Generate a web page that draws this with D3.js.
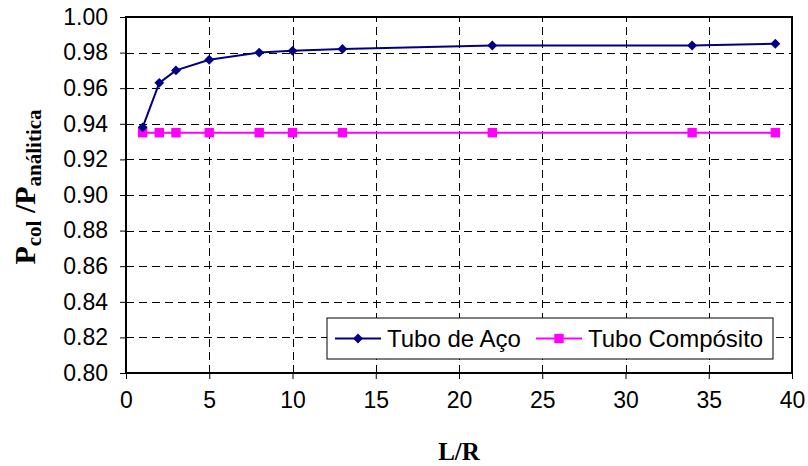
<!DOCTYPE html>
<html>
<head>
<meta charset="utf-8">
<script src="https://cdn.jsdelivr.net/npm/d3@7"></script>
<style>
  body { margin: 0; background: #fff; }
  svg { display: block; }
</style>
</head>
<body>
<svg id="chart" width="808" height="466"></svg>
<script>
// L/R values
var lr = [1, 2, 3, 5, 8, 10, 13, 22, 34, 39];
var tuboAco = [0.938, 0.963, 0.970, 0.976, 0.980, 0.981, 0.982, 0.984, 0.984, 0.985];
var tuboComposito = [0.935, 0.935, 0.935, 0.935, 0.935, 0.935, 0.935, 0.935, 0.935, 0.935];
var seriesNames = ["Tubo de Aço", "Tubo Compósito"];
var xTicks = [0, 5, 10, 15, 20, 25, 30, 35, 40];
var yTicks = [0.80, 0.82, 0.84, 0.86, 0.88, 0.90, 0.92, 0.94, 0.96, 0.98, 1.00];

var margin = { left: 126, top: 17, right: 16, bottom: 93 };
var width = 808, height = 466;
var sans = 'Liberation Sans, Arial, sans-serif';
var serif = 'Liberation Serif, Times New Roman, serif';

var svg = d3.select('#chart');

var x = d3.scaleLinear().domain([0, 40]).range([margin.left, width - margin.right]);
var y = d3.scaleLinear().domain([0.80, 1.00]).range([height - margin.bottom, margin.top]);

// grid
var grid = svg.append('g').attr('class', 'grid');
grid.selectAll('line.h')
    .data(yTicks.slice(1, -1))
    .enter().append('line')
    .attr('x1', x(0)).attr('x2', x(40))
    .attr('y1', function (d) { return Math.round(y(d)) + 0.5; })
    .attr('y2', function (d) { return Math.round(y(d)) + 0.5; })
    .attr('stroke', '#000').attr('stroke-dasharray', '8,5');
grid.selectAll('line.v')
    .data(xTicks.slice(1, -1))
    .enter().append('line')
    .attr('y1', y(0.80)).attr('y2', y(1.00))
    .attr('x1', function (d) { return Math.round(x(d)) + 0.5; })
    .attr('x2', function (d) { return Math.round(x(d)) + 0.5; })
    .attr('stroke', '#000').attr('stroke-dasharray', '8,5');

// frame
svg.append('rect')
    .attr('x', x(0)).attr('y', y(1.00))
    .attr('width', x(40) - x(0)).attr('height', y(0.80) - y(1.00))
    .attr('fill', 'none').attr('stroke', '#000').attr('stroke-width', 2);

// axes
var xAxis = svg.append('g')
    .attr('transform', 'translate(0,' + y(0.80) + ')')
    .call(d3.axisBottom(x).tickValues(xTicks).tickSize(6).tickPadding(13).tickFormat(d3.format('d')));
var yAxis = svg.append('g')
    .attr('transform', 'translate(' + x(0) + ',0)')
    .call(d3.axisLeft(y).tickValues(yTicks).tickSize(6).tickPadding(12).tickFormat(d3.format('.2f')));

[xAxis, yAxis].forEach(function (a) {
    a.select('.domain').remove();
    a.selectAll('line').attr('stroke', '#000');
    a.selectAll('text')
        .attr('font-family', sans)
        .attr('font-size', 23)
        .attr('fill', '#000');
});

// series
var line = d3.line()
    .x(function (d) { return x(d[0]); })
    .y(function (d) { return y(d[1]); });

var steel = lr.map(function (v, i) { return [v, tuboAco[i]]; });
var comp = lr.map(function (v, i) { return [v, tuboComposito[i]]; });

svg.append('path').datum(comp)
    .attr('d', line).attr('fill', 'none').attr('stroke', '#ff00ff').attr('stroke-width', 2);
svg.append('path').datum(steel)
    .attr('d', line).attr('fill', 'none').attr('stroke', '#000080').attr('stroke-width', 2);

var diamond = d3.symbol().type(d3.symbolDiamond2).size(62);
var square = d3.symbol().type(d3.symbolSquare).size(88);

svg.append('g').selectAll('path')
    .data(comp).enter().append('path')
    .attr('d', square)
    .attr('transform', function (d) { return 'translate(' + x(d[0]) + ',' + y(d[1]) + ')'; })
    .attr('fill', '#ff00ff');
svg.append('g').selectAll('path')
    .data(steel).enter().append('path')
    .attr('d', diamond)
    .attr('transform', function (d) { return 'translate(' + x(d[0]) + ',' + y(d[1]) + ')'; })
    .attr('fill', '#000080');

// legend
var lg = svg.append('g').attr('transform', 'translate(327,318)');
lg.append('rect').attr('width', 446).attr('height', 41)
    .attr('fill', '#fff').attr('stroke', '#000').attr('stroke-width', 1);
var items = [
    { name: seriesNames[0], color: '#000080', sym: diamond, x0: 8 },
    { name: seriesNames[1], color: '#ff00ff', sym: square, x0: 209 }
];
items.forEach(function (it) {
    var g = lg.append('g').attr('transform', 'translate(' + it.x0 + ',20.5)');
    g.append('line').attr('x1', 0).attr('x2', 46).attr('stroke', it.color).attr('stroke-width', 2);
    g.append('path').attr('d', it.sym).attr('transform', 'translate(23,0)').attr('fill', it.color);
    g.append('text').attr('x', 52).attr('y', 8.5)
        .attr('font-family', sans)
        .attr('font-size', 24).attr('fill', '#000')
        .text(it.name);
});

// axis titles
svg.append('text')
    .attr('x', 459).attr('y', 460)
    .attr('text-anchor', 'middle')
    .attr('font-family', serif)
    .attr('font-weight', 'bold').attr('font-size', 25)
    .text('L/R');

var yt = svg.append('text')
    .attr('transform', 'translate(35,187) rotate(-90)')
    .attr('text-anchor', 'middle')
    .attr('font-family', serif)
    .attr('font-weight', 'bold').attr('font-size', 30);
yt.append('tspan').text('P');
yt.append('tspan').attr('font-size', 21).attr('dy', 6).text('col');
yt.append('tspan').attr('dy', -6).text(' /P');
yt.append('tspan').attr('font-size', 21).attr('dy', 6).text('análitica');
</script>
</body>
</html>
